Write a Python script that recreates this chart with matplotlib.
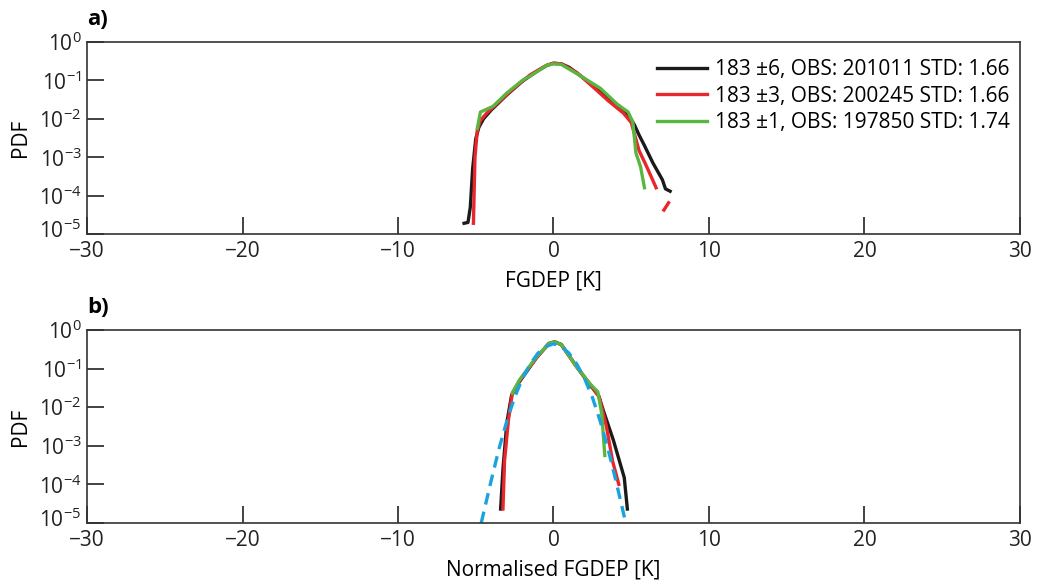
import numpy as np
import matplotlib
matplotlib.use('Agg')
import matplotlib.pyplot as plt
import matplotlib.transforms as mtransforms

plt.rcParams['font.family'] = ['Open Sans', 'DejaVu Sans']
plt.rcParams['mathtext.fontset'] = 'custom'
plt.rcParams['mathtext.rm'] = 'Open Sans'
plt.rcParams['mathtext.it'] = 'Open Sans:italic'

# a) FG departures [K]
a_black_x = [-5.75, -5.5, -5.35, -5.2, -5.0, -4.8, -4.5, -4.0, -3.0, -2.0, -1.0, -0.4, 0.0, 0.5, 1.0,
             2.0, 3.0, 4.0, 4.8, 5.2, 5.5, 5.8, 6.4, 7.0, 7.2, 7.5]
a_black_y = [1.9e-5, 2.0e-5, 5e-5, 5e-4, 3e-3, 6e-3, 1.0e-2, 1.7e-2, 4.2e-2, 9.5e-2, 0.18, 0.25, 0.28, 0.27, 0.22,
             0.11, 0.05, 0.022, 0.013, 7e-3, 3.8e-3, 2.2e-3, 7e-4, 2.6e-4, 1.5e-4, 1.3e-4]
a_red_x = [-5.15, -5.05, -4.9, -4.7, -4.3, -3.5, -2.5, -1.5, -0.5, 0.0, 0.5, 1.5, 2.5, 3.5, 4.5,
           5.0, 5.5, 6.0, 6.6, np.nan, 7.1, 7.4]
a_red_y = [1.9e-5, 1e-3, 5e-3, 9e-3, 1.4e-2, 2.8e-2, 6.5e-2, 0.14, 0.24, 0.28, 0.27, 0.16, 0.07, 0.03, 0.014,
           8e-3, 1.5e-3, 5.6e-4, 1.6e-4, np.nan, 4.2e-5, 6.5e-5]
a_green_x = [-4.9, -4.7, -3.9, -3.0, -2.0, -1.5, -0.4, 0.0, 0.5, 1.5, 3.0, 4.1, 4.8, 5.1, 5.3, 5.6, 5.85]
a_green_y = [5.6e-3, 1.5e-2, 2.1e-2, 4.7e-2, 0.1, 0.13, 0.25, 0.27, 0.26, 0.15, 0.063, 0.024, 0.015,
             8.3e-3, 1.3e-3, 5.6e-4, 1.6e-4]

# b) normalised FG departures
b_black_x = [-3.4, -3.25, -3.0, -2.7, -2.2, -1.1, -0.3, 0.1, 0.5, 1.5, 2.3, 2.9, 3.2, 3.85, 4.55, 4.75]
b_black_y = [2.3e-5, 2.5e-4, 4e-3, 2e-2, 4.5e-2, 0.19, 0.44, 0.49, 0.42, 0.11, 0.04, 0.02, 8.3e-3, 1.4e-3,
             1.5e-4, 2.3e-5]
b_red_x = [-3.25, -3.15, -2.9, -2.65, -2.2, -1.1, -0.3, 0.05, 0.5, 1.5, 2.3, 2.95, 3.4, 3.8, 4.2]
b_red_y = [2.3e-5, 4e-4, 4.6e-3, 2.3e-2, 4.7e-2, 0.19, 0.45, 0.49, 0.42, 0.11, 0.042, 0.018, 3.2e-3, 4e-4, 1e-4]
b_green_x = [-2.65, -2.2, -1.1, -0.25, 0.05, 0.5, 1.5, 2.3, 2.85, 3.1, 3.3]
b_green_y = [2.3e-2, 5e-2, 0.2, 0.46, 0.49, 0.42, 0.11, 0.042, 0.025, 6.9e-3, 5.6e-4]
b_blue_x = [-4.65, -4.5, -4.0, -3.5, -3.0, -2.5, -2.0, -1.5, -1.0, -0.5, 0.0, 0.5, 1.0, 1.5, 2.0, 2.5,
            3.0, 3.5, 4.0, 4.5, 4.65]
b_blue_y = [1e-5, 1.8e-5, 1.3e-4, 8.5e-4, 4.4e-3, 1.8e-2, 5.5e-2, 0.13, 0.25, 0.37, 0.44, 0.37, 0.25, 0.13,
            5.5e-2, 1.8e-2, 4.4e-3, 8.5e-4, 1.3e-4, 1.8e-5, 1e-5]

etiquetas = ['183 ±6, OBS: 201011 STD: 1.66',
             '183 ±3, OBS: 200245 STD: 1.66',
             '183 ±1, OBS: 197850 STD: 1.74']
colores = ['#1a1a1a', '#e8262b', '#5bb641']
azul = '#1ba3dc'
lw = 2.4
fs = 15

fig = plt.figure(figsize=(10.37, 5.86), dpi=100)
ax1 = fig.add_axes([0.0839, 0.6007, 0.8997, 0.3276])
ax2 = fig.add_axes([0.0839, 0.1075, 0.8997, 0.3294])

ax1.plot(a_black_x, a_black_y, color=colores[0], lw=lw, label=etiquetas[0])
ax1.plot(a_red_x, a_red_y, color=colores[1], lw=lw, label=etiquetas[1])
ax1.plot(a_green_x, a_green_y, color=colores[2], lw=lw, label=etiquetas[2])

ax2.plot(b_black_x, b_black_y, color=colores[0], lw=lw)
ax2.plot(b_red_x, b_red_y, color=colores[1], lw=lw)
ax2.plot(b_green_x, b_green_y, color=colores[2], lw=lw)
ax2.plot(b_blue_x, b_blue_y, color=azul, lw=lw, linestyle=(0, (3.5, 2.2)))

for ax, xl, letra in [(ax1, 'FGDEP [K]', 'a)'), (ax2, 'Normalised FGDEP [K]', 'b)')]:
    ax.set_yscale('log')
    ax.set_ylim(1e-5, 1)
    ax.set_xlim(-30, 30)
    ax.set_xticks([-30, -20, -10, 0, 10, 20, 30])
    ax.set_yticks([1e-5, 1e-4, 1e-3, 1e-2, 1e-1, 1])
    ax.set_xticklabels(['\u221230', '\u221220', '\u221210', '0', '10', '20', '30'])
    ax.set_yticklabels([r'$10^{-5}$', r'$10^{-4}$', r'$10^{-3}$', r'$10^{-2}$', r'$10^{-1}$', r'$10^{0}$'])
    ax.minorticks_off()
    ax.tick_params(direction='in', length=12, width=1.2, labelsize=fs, colors='#222222')
    ax.tick_params(axis='x', pad=5)
    ax.tick_params(axis='y', pad=4)
    for s in ax.spines.values():
        s.set_color('#333333')
        s.set_linewidth(1.2)
    ax.set_xlabel(xl, fontsize=fs, labelpad=6)
    ax.set_ylabel('PDF', fontsize=fs, labelpad=6)
    ax.text(0.0, 1.06, letra, transform=ax.transAxes, fontsize=fs + 1, fontweight='bold',
            ha='left', va='bottom')
    # el 10^-5 un poco hacia arriba para que no pise al -30
    lab = ax.get_yticklabels()[0]
    lab.set_transform(lab.get_transform() + mtransforms.ScaledTranslation(0, 4 / 72, fig.dpi_scale_trans))

ax1.legend(loc='upper right', frameon=False, fontsize=fs, handlelength=2.4,
           bbox_to_anchor=(1.005, 0.985), borderaxespad=0.3, labelspacing=0.25, handletextpad=0.4)

plt.savefig('out.png', dpi=100)
